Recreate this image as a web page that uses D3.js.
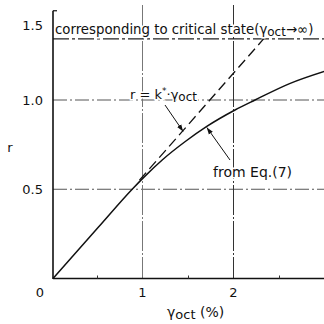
<!DOCTYPE html>
<html>
<head>
<meta charset="utf-8">
<script src="https://cdn.jsdelivr.net/npm/d3@7/dist/d3.min.js"></script>
<style>
  html, body { margin: 0; padding: 0; background: #fff; }
  svg { display: block; }
  text { font-family: "DejaVu Sans", Verdana, sans-serif; fill: #111; }
</style>
</head>
<body>
<svg id="chart" width="324" height="324"></svg>
<script>
// Shear strain (%) vs stress ratio r
const xTicks = [0, 1, 2];
const xMinorTicks = [0.5, 1.5, 2.5];
const yTicks = [0.5, 1.0, 1.5];
const yTickLabels = ["0.5", "1.0", "1.5"];
const gridX = [1, 2];
const gridY = [0.5, 1.0];

// Curve from Eq.(7)
const eqGamma = [0, 0.5, 0.87, 1.0, 1.2, 1.45, 1.69, 2.0, 2.22, 2.6, 2.98];
const eqR     = [0, 0.288, 0.5, 0.568, 0.664, 0.766, 0.852, 0.944, 1.0, 1.092, 1.16];

// Initial tangent r = k*·γoct
const kStar = 0.58;
const tangentGamma = [0.95, 2.314];

// Critical state level
const rCritical = 1.342;

const svg = d3.select("#chart");
const x = d3.scaleLinear().domain([0, 3]).range([53, 326]);
const y = d3.scaleLinear().domain([0, 1.5]).range([278.5, 10.75]);

// arrowhead
svg.append("defs").append("marker")
  .attr("id", "arr").attr("viewBox", "0 0 10 10")
  .attr("refX", 10).attr("refY", 5)
  .attr("markerWidth", 7).attr("markerHeight", 7)
  .attr("orient", "auto")
  .append("path").attr("d", "M0,1.5 L10,5 L0,8.5 Z").attr("fill", "#111");

// grid lines
svg.append("g").selectAll("line").data(gridY).join("line")
  .attr("x1", x(0)).attr("x2", 324)
  .attr("y1", d => y(d)).attr("y2", d => y(d))
  .attr("stroke", "#555").attr("stroke-width", 1)
  .attr("stroke-dasharray", "14,3,2,3");

svg.append("g").selectAll("line").data(gridX).join("line")
  .attr("x1", d => x(d) - 1.5).attr("x2", d => x(d) - 1.5)
  .attr("y1", 5).attr("y2", y(0))
  .attr("stroke", (d, i) => i === 0 ? "#777" : "#333").attr("stroke-width", 1)
  .attr("stroke-dasharray", "30,2,2,2");

// critical state line
svg.append("line")
  .attr("x1", x(0)).attr("x2", 324)
  .attr("y1", y(rCritical)).attr("y2", y(rCritical))
  .attr("stroke", "#222").attr("stroke-width", 1.2)
  .attr("stroke-dasharray", "16,3,3,3");

// axes
svg.append("line").attr("x1", x(0)).attr("x2", x(0))
  .attr("y1", y(1.5)).attr("y2", y(0) + 0.5)
  .attr("stroke", "#111").attr("stroke-width", 1.6);
svg.append("line").attr("x1", x(0)).attr("x2", x(0) + 4)
  .attr("y1", y(1.5)).attr("y2", y(1.5))
  .attr("stroke", "#111").attr("stroke-width", 1.2);
svg.append("line").attr("x1", x(0)).attr("x2", 324)
  .attr("y1", y(0)).attr("y2", y(0))
  .attr("stroke", "#111").attr("stroke-width", 1.4);
svg.append("g").selectAll("line").data(xMinorTicks).join("line")
  .attr("x1", d => x(d) - 1).attr("x2", d => x(d) - 1)
  .attr("y1", y(0)).attr("y2", y(0) - 3)
  .attr("stroke", "#333").attr("stroke-width", 1);

// tangent line
svg.append("line")
  .attr("x1", x(tangentGamma[0])).attr("y1", y(kStar * tangentGamma[0]))
  .attr("x2", x(tangentGamma[1])).attr("y2", y(kStar * tangentGamma[1]))
  .attr("stroke", "#111").attr("stroke-width", 1.3)
  .attr("stroke-dasharray", "10,5");

// curve from Eq.(7)
const line = d3.line().x(d => x(d[0])).y(d => y(d[1])).curve(d3.curveMonotoneX);
svg.append("path")
  .attr("d", line(eqGamma.map((g, i) => [g, eqR[i]])))
  .attr("fill", "none").attr("stroke", "#111").attr("stroke-width", 1.5);

// leader arrows
svg.append("line").attr("x1", 165).attr("y1", 105)
  .attr("x2", x(1.43)).attr("y2", y(kStar * 1.43) + 1)
  .attr("stroke", "#111").attr("stroke-width", 1).attr("marker-end", "url(#arr)");
svg.append("line").attr("x1", 230).attr("y1", 160)
  .attr("x2", x(1.69)).attr("y2", y(0.852) + 1)
  .attr("stroke", "#111").attr("stroke-width", 1).attr("marker-end", "url(#arr)");

// tick labels
svg.append("g").selectAll("text").data(yTicks).join("text")
  .attr("x", 43).attr("y", d => Math.max(y(d), 25)).attr("dy", "0.36em")
  .attr("text-anchor", "end").attr("font-size", 13)
  .text((d, i) => yTickLabels[i]);
svg.append("g").selectAll("text").data(xTicks).join("text")
  .attr("x", d => d === 0 ? 40 : x(d) - 1.5).attr("y", 297)
  .attr("text-anchor", "middle").attr("font-size", 13)
  .text(d => d);

// axis titles
svg.append("text").attr("x", 10).attr("y", 152)
  .attr("text-anchor", "middle").attr("font-size", 13).text("r");
const xt = svg.append("text").attr("x", 167).attr("y", 317).attr("font-size", 14);
xt.append("tspan").text("γ");
xt.append("tspan").attr("font-size", 13).attr("dy", 2).text("oct");
xt.append("tspan").attr("dy", -2).text(" (%)");

// annotations
const crit = svg.append("text").attr("x", 55).attr("y", 34).attr("font-size", 13.3)
  .attr("stroke", "#fff").attr("stroke-width", 3).attr("paint-order", "stroke");
crit.append("tspan").text("corresponding to critical state(γ");
crit.append("tspan").attr("font-size", 12).attr("dy", 2).text("oct");
crit.append("tspan").attr("dy", -2).text("→∞)");

const kt = svg.append("text").attr("x", 130).attr("y", 99).attr("font-size", 13)
  .attr("stroke", "#fff").attr("stroke-width", 3).attr("paint-order", "stroke");
kt.append("tspan").text("r = k");
kt.append("tspan").attr("font-size", 9).attr("dy", -5).text("*");
kt.append("tspan").attr("dy", 5).text("·γ");
kt.append("tspan").attr("font-size", 12).attr("dy", 2).text("oct");

svg.append("text").attr("x", 213).attr("y", 177).attr("font-size", 14)
  .attr("stroke", "#fff").attr("stroke-width", 3).attr("paint-order", "stroke")
  .text("from Eq.(7)");
</script>
</body>
</html>
